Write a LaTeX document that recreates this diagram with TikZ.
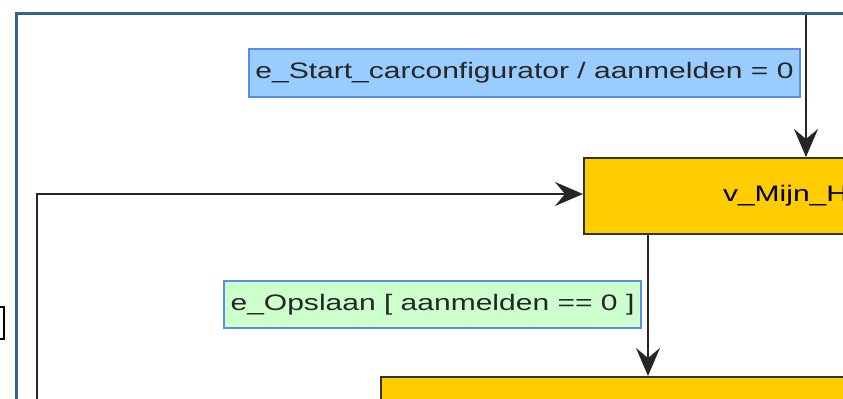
\documentclass[tikz,border=0pt]{standalone}
\usepackage{fontspec}
\newfontfamily\lblfont[FakeStretch=1.34]{Liberation Sans}
\usetikzlibrary{arrows.meta}
\definecolor{frameBlue}{HTML}{3B5E91}
\definecolor{stateYellow}{HTML}{FFCC00}
\definecolor{eventBlue}{HTML}{99CCFF}
\definecolor{guardGreen}{HTML}{CCFFCC}
\definecolor{labelBorder}{HTML}{5B8BF2}

\begin{document}
\begin{tikzpicture}
[x=0.5pt,y=-0.5pt,
state/.style={draw=black!80,line width=1pt,fill=stateYellow,anchor=north west,inner ysep=0pt,
  font=\lblfont\fontsize{11.2}{13}\selectfont},
event/.style={draw=labelBorder,line width=1pt,fill=eventBlue,inner sep=0pt,text=black!85,
  minimum width=275.5pt,minimum height=24pt,font=\lblfont\fontsize{11.2}{13}\selectfont},
guard/.style={event,fill=guardGreen,minimum width=208.5pt,minimum height=23.5pt},
edge/.style={line width=1pt,draw=black!85},
rightEnd/.style={-{Stealth[length=14pt,width=12pt,inset=5pt]}},
frameLine/.style={line width=1.5pt,draw=frameBlue}]
\useasboundingbox (0,0) rectangle (843,398);
\clip (0,0) rectangle (843,398);
\fill[white] (0,0) rectangle (843,398);
\node[state,minimum width=260pt,minimum height=38pt,inner xsep=69.5pt,text width=121pt,align=left] (mijn) at (583,157) {v\_Mijn\_H};
\node[state,minimum width=360pt,minimum height=40pt] (lower) at (380,376) {};
\node[event] (startLbl) at (524.5,73) {e\_Start\_carconfigurator / aanmelden = 0};
\node[guard] (saveLbl) at (432.5,304.5) {e\_Opslaan [ aanmelden == 0 ]};
\node[draw=black,line width=0.8pt,fill=white,minimum width=20pt,minimum height=16pt,inner sep=0pt,anchor=east] (prevBox) at (5,323) {};
\coordinate (entry) at (806,12);
\coordinate (loopStart) at (37,402);
\coordinate (drop) at (648,0);
\draw[edge,rightEnd] (entry) -- (entry |- mijn.north);
\draw[edge,rightEnd] (loopStart) |- ([yshift=1pt]mijn.west);
\draw[edge,rightEnd] (mijn.south -| drop) -- (lower.north -| drop);
\draw[frameLine] (16,400) |- (845,13);
\end{tikzpicture}
\end{document}
